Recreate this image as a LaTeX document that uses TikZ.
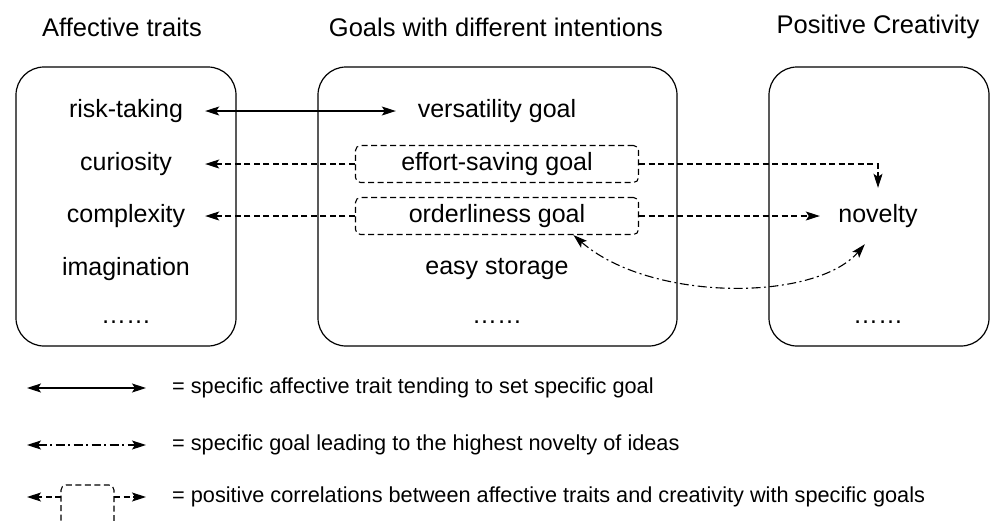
\documentclass[tikz,border=0pt]{standalone}
\usepackage{fontspec}
\setmainfont{Liberation Sans}
\usetikzlibrary{arrows.meta}

\tikzset{
  panel/.style={draw, line width=1.2pt, rounded corners=28pt,
    minimum height=279pt},
  item/.style={font=\fontsize{25}{30}\selectfont, inner sep=0pt},
  goalbox/.style={item, draw, line width=1.1pt, rounded corners=5pt,
    dash pattern=on 6pt off 3.5pt, minimum width=283pt, minimum height=37pt},
  title/.style={font=\fontsize{25.5}{30}\selectfont},
  keytext/.style={font=\fontsize{21.7}{26}\selectfont, anchor=west, inner sep=0pt},
  tip/.style={-{Stealth[length=14pt,width=9pt,inset=3pt]}},
  tips/.style={{Stealth[length=14pt,width=9pt,inset=3pt]}-{Stealth[length=14pt,width=9pt,inset=3pt]}},
  link/.style={line width=1.1pt},
  dsh/.style={line width=1.1pt, dash pattern=on 6pt off 3.5pt},
  dashdot/.style={line width=1.1pt, dash pattern=on 9pt off 3.5pt on 2pt off 3.5pt}
}

\begin{document}
\begin{tikzpicture}[x=1pt, y=-1pt]
    \clip (0,0) rectangle (990,520);

    \node[title] (tAff) at (122,27) {Affective traits};
    \node[title] (tGoal) at (496,27) {Goals with different intentions};
    \node[title] (tCre) at (878,27) {Positive Creativity};

    \node[panel, minimum width=220pt] (pAff) at (126,206.5) {};
    \node[panel, minimum width=359pt] (pGoal) at (497.5,206.5) {};
    \node[panel, minimum width=220pt] (pCre) at (879,206.5) {};

    \node[item, minimum width=158pt] (risk) at (126,111) {risk-taking};
    \node[item, minimum width=158pt] (curio) at (126,164) {curiosity};
    \node[item, minimum width=158pt] (compl) at (126,216) {complexity};
    \node[item] (imag) at (126,269) {imagination};
    \node[item] (aDots) at (126,322) {……};

    \node[item, minimum width=202pt] (versa) at (497,111) {versatility goal};
    \node[goalbox] (effort) at (497,164) {effort-saving goal};
    \node[goalbox] (order) at (497,216) {orderliness goal};
    \node[item] (store) at (497,269) {easy storage};
    \node[item] (gDots) at (497,322) {……};

    \node[item, minimum width=116pt, minimum height=56pt] (novel) at (878,216) {novelty};
    \node[item] (cDots) at (878,322) {……};

    \draw[link, tips] (risk.east) -- (versa.west);
    \draw[dsh, tip] (effort.west) -- (curio.east);
    \draw[dsh, tip] (order.west) -- (compl.east);
    \draw[dsh, tip] (effort.east) -| (novel.north);
    \draw[dsh, tip] (order.east) -- (novel.west);
    \draw[dashdot, tips] (order.-14) .. controls (650,302) and (815,302) .. (novel.-115);

    \coordinate (kA1) at (27,388);
    \coordinate (kA2) at (146,388);
    \coordinate (kB1) at (27,445);
    \coordinate (kB2) at (146,445);
    \coordinate (kC1) at (27,497);
    \coordinate (kC2) at (146,497);
    \coordinate (kBoxL) at (61,497);
    \coordinate (kBoxR) at (114,497);

    \draw[link, tips] (kA1) -- (kA2);
    \draw[dashdot, tips] (kB1) -- (kB2);
    \draw[dsh, rounded corners=5pt] (61,530) |- (114,485) -- (114,530);
    \draw[dsh, tip] (kBoxL) -- (kC1);
    \draw[dsh, tip] (kBoxR) -- (kC2);

    \node[keytext] (kA) at (172,388) {= specific affective trait tending to set specific goal};
    \node[keytext] (kB) at (172,445) {= specific goal leading to the highest novelty of ideas};
    \node[keytext] (kC) at (172,497) {= positive correlations between affective traits and creativity with specific goals};
\end{tikzpicture}
\end{document}
